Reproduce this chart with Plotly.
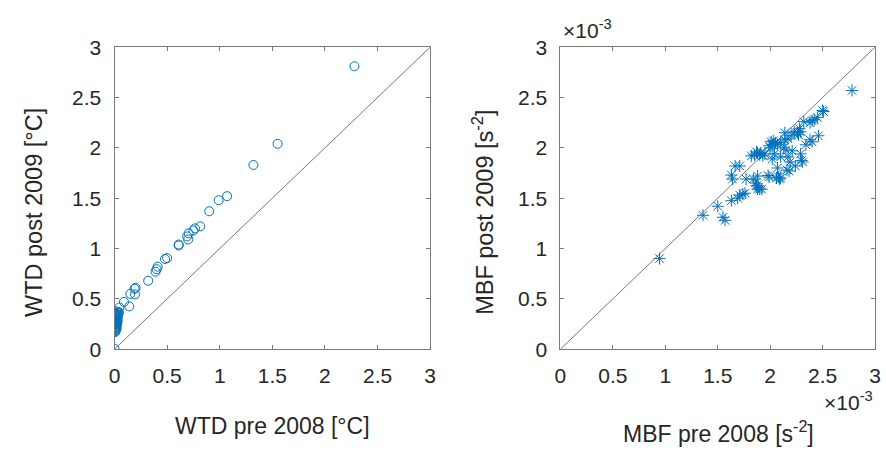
import plotly.graph_objects as go

# Water temperature difference (WTD), degC
wtd_pre = [2.28, 1.55, 1.32, 1.07, 0.99, 0.90, 0.815, 0.765, 0.75, 0.705, 0.69, 0.70,
           0.61, 0.61, 0.50, 0.48, 0.41, 0.40, 0.39, 0.32, 0.20, 0.19, 0.195, 0.15,
           0.14, 0.09, 0.047, 0.04, 0.016, 0.0,
           0.005, 0.01, 0.0, 0.015, 0.005, 0.02, 0.01, 0.0, 0.015, 0.025, 0.005, 0.02,
           0.01, 0.03, 0.0, 0.02, 0.01, 0.03, 0.015, 0.025, 0.005, 0.035, 0.02, 0.03, 0.04,
           0.01, 0.02, 0.005, 0.015, 0.025, 0.01, 0.02, 0.0, 0.015, 0.03, 0.01, 0.02]
wtd_post = [2.81, 2.04, 1.83, 1.52, 1.48, 1.37, 1.22, 1.20, 1.18, 1.15, 1.12, 1.09,
            1.04, 1.03, 0.905, 0.896, 0.82, 0.795, 0.77, 0.68, 0.61, 0.60, 0.544, 0.55,
            0.425, 0.47, 0.415, 0.37, 0.33, 0.005,
            0.17, 0.18, 0.19, 0.20, 0.21, 0.22, 0.23, 0.24, 0.25, 0.25, 0.26, 0.27,
            0.28, 0.28, 0.29, 0.30, 0.31, 0.31, 0.32, 0.33, 0.34, 0.34, 0.35, 0.36, 0.36,
            0.185, 0.205, 0.225, 0.245, 0.265, 0.275, 0.295, 0.305, 0.325, 0.345, 0.355, 0.375]

# Mean buoyancy frequency (MBF), in units of 1e-3 s^-2
mbf_pre = [2.78, 2.50, 2.51, 2.45, 2.40, 2.38, 2.42, 2.32, 2.28, 2.26, 2.29, 2.27,
           2.23, 2.14, 2.20, 2.46, 2.38, 2.40, 2.34, 2.17, 2.14, 2.01, 2.025, 2.07,
           2.10, 2.03, 2.05, 2.00, 1.99, 2.13, 2.15, 1.85, 1.88, 1.91, 1.82, 1.90,
           1.95, 1.87, 1.93, 2.04, 2.02, 2.10, 2.17, 2.21, 2.29, 2.30, 2.31, 2.19,
           2.07, 2.24, 2.18, 2.16, 1.98, 1.99, 2.06, 2.09, 2.10, 2.08, 1.88, 1.84,
           1.77, 1.87, 1.88, 1.90, 1.92, 1.86, 1.89, 1.666, 1.71, 1.63, 1.64, 1.76,
           1.71, 1.69, 1.74, 1.63, 1.50, 1.55, 1.57, 1.36, 0.945]
mbf_post = [2.57, 2.37, 2.36, 2.30, 2.27, 2.25, 2.28, 2.26, 2.19, 2.15, 2.16, 2.13,
            2.16, 2.15, 2.12, 2.12, 2.08, 2.06, 2.03, 2.09, 2.08, 2.06, 2.03, 2.03,
            2.05, 2.07, 2.05, 2.00, 2.02, 2.00, 1.98, 1.93, 1.95, 1.95, 1.92, 1.93,
            1.94, 1.96, 1.92, 1.94, 1.89, 1.91, 1.91, 1.97, 1.94, 1.875, 1.86, 1.86,
            1.80, 1.82, 1.77, 1.78, 1.725, 1.71, 1.70, 1.69, 1.70, 1.71, 1.72, 1.69,
            1.69, 1.625, 1.59, 1.59, 1.59, 1.65, 1.61, 1.82, 1.82, 1.73, 1.69, 1.55,
            1.53, 1.50, 1.54, 1.475, 1.42, 1.31, 1.28, 1.33, 0.90]

tick_vals = [0, 0.5, 1, 1.5, 2, 2.5, 3]
tick_text = ["0", "0.5", "1", "1.5", "2", "2.5", "3"]
one_to_one = [0, 3]

BLUE = "#0072BD"
AXIS = "#7a7a7a"
TEXT = "#262626"
FONT = "Liberation Sans, Arial, Helvetica, sans-serif"

fig = go.Figure()

fig.add_trace(go.Scatter(x=one_to_one, y=one_to_one, mode="lines",
                         line=dict(color="#555555", width=0.8),
                         xaxis="x", yaxis="y", showlegend=False, hoverinfo="skip"))
fig.add_trace(go.Scatter(x=wtd_pre, y=wtd_post, mode="markers",
                         marker=dict(symbol="circle-open", size=9, color=BLUE,
                                     line=dict(width=1, color=BLUE)),
                         xaxis="x", yaxis="y", showlegend=False))

fig.add_trace(go.Scatter(x=one_to_one, y=one_to_one, mode="lines",
                         line=dict(color="#555555", width=0.8),
                         xaxis="x2", yaxis="y2", showlegend=False, hoverinfo="skip"))
fig.add_trace(go.Scatter(x=mbf_pre, y=mbf_post, mode="markers",
                         marker=dict(symbol="asterisk-open", size=10, color=BLUE,
                                     line=dict(width=1, color=BLUE)),
                         xaxis="x2", yaxis="y2", showlegend=False))

axis_common = dict(range=[0, 3], tickvals=tick_vals, ticktext=tick_text,
                   ticks="inside", ticklen=4, tickwidth=1, tickcolor=AXIS,
                   showline=True, linecolor=AXIS, linewidth=1, mirror="ticks",
                   showgrid=False, zeroline=False,
                   tickfont=dict(family=FONT, size=21, color=TEXT))

Y_DOM = [1 - 355 / 459, 1 - 37 / 459]
fig.update_layout(
    width=886, height=459, autosize=False,
    margin=dict(l=0, r=0, t=0, b=0),
    paper_bgcolor="white", plot_bgcolor="white",
    font=dict(family=FONT, color=TEXT),
    xaxis=dict(domain=[110 / 886, 430 / 886], anchor="y", ticklabelstandoff=8, **axis_common),
    yaxis=dict(domain=Y_DOM, anchor="x", ticklabelstandoff=8, **axis_common),
    xaxis2=dict(domain=[562 / 886, 881 / 886], anchor="y2", ticklabelstandoff=8, **axis_common),
    yaxis2=dict(domain=Y_DOM, anchor="x2", ticklabelstandoff=8, **axis_common),
)

xtitle_font = dict(family=FONT, size=23, color=TEXT)
ytitle_font = dict(family=FONT, size=23.5, color=TEXT)
exp_font = dict(family=FONT, size=21, color=TEXT)
annotations = [
    dict(text="WTD pre 2008 [°C]", x=270 / 886, y=1 - 436 / 459, xref="paper", yref="paper",
         xanchor="center", yanchor="middle", showarrow=False, font=xtitle_font),
    dict(text="WTD post 2009 [°C]", x=29 / 886, y=1 - 211 / 459, xref="paper", yref="paper",
         xanchor="center", yanchor="middle", textangle=-90, showarrow=False, font=ytitle_font),
    dict(text="MBF pre 2008 [s<sup>-2</sup>]", x=722 / 886, y=1 - 442 / 459, xref="paper",
         yref="paper", xanchor="center", yanchor="middle", showarrow=False, font=xtitle_font),
    dict(text="MBF post 2009 [s<sup>-2</sup>]", x=484 / 886, y=1 - 211 / 459, xref="paper",
         yref="paper", xanchor="center", yanchor="middle", textangle=-90, showarrow=False,
         font=ytitle_font),
    dict(text="×10<sup>-3</sup>", x=881 / 886, y=1 - 410 / 459, xref="paper", yref="paper",
         xanchor="right", yanchor="middle", showarrow=False, font=exp_font),
    dict(text="×10<sup>-3</sup>", x=563 / 886, y=1 - 18 / 459, xref="paper", yref="paper",
         xanchor="left", yanchor="middle", showarrow=False, font=exp_font),
]
fig.update_layout(annotations=annotations)

fig.write_html("out.html")
